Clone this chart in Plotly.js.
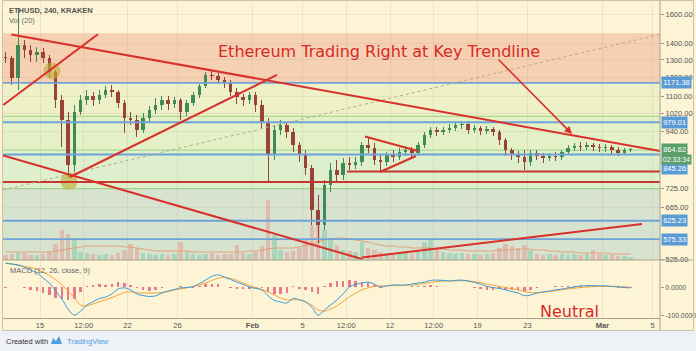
<!DOCTYPE html>
<html><head><meta charset="utf-8">
<script src="https://cdn.plot.ly/plotly-3.0.1.min.js"></script>
<style>html,body{margin:0;padding:0;background:#fdf4d6;}#chart{width:696px;height:351px;}</style>
</head><body><div id="chart"></div>
<script>
// ---------- data (12h candles, ETHUSD Kraken) ----------
const firstCandleCentre = Date.UTC(2018,0,12,6,0,0);
const candleHours = 12;
const opens = [1318,1312,1197,1391,1360,1330,1348,1312,1231,1083,
 989,806,1026,1083,1103,1083,1108,1134,1123,1069,
 998,989,945,998,1035,1059,1083,1064,1083,1026,
 1069,1108,1155,1214,1208,1187,1176,1123,1098,1083,
 1108,1059,980,843,945,967,937,883,843,795,
 657,613,736,788,770,813,806,817,883,871,
 825,817,843,836,855,863,851,883,924,945,
 937,945,954,967,971,945,954,941,950,937,
 903,863,843,836,817,851,840,832,840,836,
 855,871,879,875,883,875,871,875,863,851,863];
const highs = [1348,1324,1647,1423,1391,1379,1373,1330,1242,1108,
 1026,1059,1108,1134,1123,1134,1155,1160,1134,1083,
 1026,1012,1021,1054,1093,1103,1103,1098,1093,1083,
 1123,1165,1231,1242,1225,1203,1187,1144,1113,1123,
 1123,1083,998,967,989,980,954,895,863,806,
 703,753,813,825,832,836,836,895,911,891,
 843,855,863,871,879,875,895,937,958,958,
 958,971,980,985,985,967,963,963,958,945,
 911,871,859,863,863,863,851,851,855,863,
 883,891,895,895,891,887,887,883,875,871,871];
const lows = [1282,1160,1134,1312,1288,1288,1282,1197,1045,875,
 760,781,1012,1059,1054,1064,1093,1098,1045,932,
 967,916,932,980,1016,1035,1035,1045,989,1007,
 1054,1093,1144,1187,1165,1144,1103,1064,1054,1064,
 1026,954,743,825,924,911,855,817,770,613,
 565,600,713,743,753,788,791,802,851,806,
 781,802,817,825,840,832,840,871,911,920,
 924,932,941,950,928,932,924,928,920,883,
 840,825,813,788,802,825,813,821,821,825,
 843,859,859,863,859,855,855,847,840,843,855];
const closes = [1312,1197,1391,1360,1330,1348,1312,1231,1083,989,
 806,1026,1083,1103,1083,1108,1134,1123,1069,998,
 989,945,998,1035,1059,1083,1064,1083,1026,1069,
 1108,1155,1214,1208,1187,1176,1123,1098,1083,1108,
 1059,980,843,945,967,937,883,843,795,657,
 613,736,788,770,813,806,817,883,871,825,
 817,843,836,855,863,851,883,924,945,937,
 945,954,967,971,945,954,941,950,937,903,
 863,843,836,817,851,840,832,840,836,855,
 871,879,875,883,875,871,875,863,851,863,864.62];
const volumes = [5000,6000,8000,7000,5000,5000,6000,8000,16000,30000,
 26000,22000,8000,7000,6000,5000,6000,5000,7000,10000,
 16000,12000,7000,6000,5000,6000,5000,6000,18000,8000,
 6000,5000,6000,7000,5000,6000,6000,15000,7000,6000,
 8000,14000,60000,25000,10000,8000,9000,12000,20000,35000,
 38000,30000,20000,15000,10000,9000,8000,18000,12000,10000,
 8000,7000,6000,6000,7000,6000,8000,18000,20000,12000,
 8000,7000,6000,7000,6000,6000,5000,6000,7000,12000,
 16000,14000,12000,15000,10000,6000,5000,6000,5000,6000,
 5000,6000,5000,7000,10000,6000,5000,5000,4000,4000,3000];
const volumeMA = [8000,8000,8000,8000,8000,8000,8000,8000,9000,10000,
 11000,12000,13000,14000,14000,14000,14000,14000,14000,13000,
 13000,12000,11000,10000,9000,9000,9000,9000,9000,9000,
 8000,8000,8000,8000,8000,8000,8000,8000,8000,9000,
 9000,10000,11000,12000,12000,12000,12000,13000,14000,16000,
 18000,20000,21000,22000,22000,21000,20000,19000,18000,16000,
 15000,14000,14000,13000,13000,12000,12000,12000,12000,11000,
 11000,10000,10000,10000,9000,9000,9000,9000,9000,10000,
 10000,10000,11000,11000,11000,10000,10000,9000,9000,8000,
 8000,8000,7000,7000,7000,7000,7000,6000,6000,6000,6000];
const macdLine = [83,81,78,71,60,50,32,15,-13,-41,
 -76,-97,-83,-62,-50,-39,-34,-23,-6,-2,
 -9,-23,-29,-32,-30,-20,-13,-8,-2,-1,
 2,13,25,38,43,36,27,18,10,1,
 -4,-9,-30,-46,-51,-55,-39,-43,-51,-70,
 -97,-79,-62,-44,-23,1,10,15,18,11,
 1,5,8,8,8,11,15,18,24,25,
 24,22,24,25,22,17,11,3,-1,-4,
 -9,-15,-20,-29,-27,-20,-16,-13,-9,-6,
 -2,1,5,6,6,5,5,3,1,-1,-2];
const signalLine = [85,81,76,72,69,62,52,41,27,8,
 -13,-37,-62,-65,-58,-51,-43,-36,-27,-18,
 -16,-19,-20,-20,-20,-18,-15,-9,-6,-2,
 3,8,15,24,32,34,31,24,15,6,
 -1,-8,-16,-27,-37,-44,-44,-44,-51,-63,
 -79,-83,-76,-65,-49,-34,-20,-9,-2,3,
 5,5,6,6,7,8,10,13,17,20,
 22,22,22,23,22,20,16,11,7,3,
 -1,-5,-9,-15,-18,-19,-17,-15,-12,-9,
 -6,-3,-1,1,2,3,3,3,3,2,0];
const histogram = [-2,0,2,-1,-9,-12,-20,-26,-38,-42,
 -45,-42,-18,3,8,12,9,13,20,16,
 7,-4,-9,-12,-10,-2,2,1,4,1,
 -1,5,10,13,11,2,-4,-6,-5,-5,
 -3,-1,-15,-22,-25,-20,5,-5,-10,-18,
 -22,4,14,21,22,25,22,18,14,8,
 -4,0,2,2,1,3,5,5,7,5,
 2,0,2,2,0,-3,-5,-8,-8,-7,
 -8,-10,-11,-14,-9,-1,1,2,3,3,
 4,4,6,5,4,2,2,0,-2,-3,-2];

// axis ticks
const dateTicks = ['2018-01-15','2018-01-18 12:00','2018-01-22','2018-01-26','2018-02-01','2018-02-05','2018-02-08 12:00','2018-02-12','2018-02-15 12:00','2018-02-19','2018-02-23','2018-03-01','2018-03-05'];
const dateTickText = ['15','12:00','22','26','<b>Feb</b>','5','12:00','12','12:00','19','23','<b>Mar</b>','5'];
const priceTicks = [525,665,725,940,1020,1100,1200,1300,1400,1600];
const macdTicks = [0,-100];
const macdTickText = ['0.0000','-100.0000'];

// drawn levels / zones
const zoneEdges = [1467.5,1171.38,1005,862,724];
const blueLevels = [1171.38,979.01,845.26,625.23,575.33];
const greenLevels = [1005,862,724];
const redLevelPrices = [782,746];
const redLevelStarts = ['2018-02-08 13:30','2018-01-12 00:00'];
// trend lines (time, price pairs)
const trendStartTimes = ['2018-01-12 17:00','2018-01-12 01:30','2018-01-17 09:36','2018-01-12 01:00','2018-02-09 18:15','2018-02-10 00:00','2018-02-11 04:48'];
const trendStartPrices = [1460,1059,763,842,529,917.5,780.6];
const trendEndTimes = ['2018-03-05 14:24','2018-01-19 15:20','2018-02-02 23:00','2018-02-09 18:15','2018-03-04 03:50','2018-02-14 05:46','2018-02-14 01:55'];
const trendEndPrices = [859,1461,1214,525.4,616.2,858.9,839.6];
const dashStartTime = '2018-01-12 01:00', dashStartPrice = 719.2;
const dashEndTime = '2018-03-05 14:24', dashEndPrice = 1460.8;
const circleTimes = ['2018-01-15 23:00','2018-01-17 07:40'];
const circlePrices = [1236,748];
const priceTags = ['1171.38','979.01','864.62','845.26','625.23','575.33'];
const priceTagValues = [1171.38,979.01,864.62,845.26,625.23,575.33];

// ---------- build ----------
function fmt(ms){const d=new Date(ms);const p=n=>String(n).padStart(2,'0');
 return d.getUTCFullYear()+'-'+p(d.getUTCMonth()+1)+'-'+p(d.getUTCDate())+' '+p(d.getUTCHours())+':'+p(d.getUTCMinutes());}
const times = closes.map((_,i)=>fmt(firstCandleCentre+i*candleHours*3600e3));
const isUp = closes.map((c,i)=>c>=opens[i]);
const volColors = isUp.map(u=> u ? 'rgba(83,185,150,0.35)' : 'rgba(235,110,110,0.32)');
const candleColors = isUp.map(u=> u ? '#3f8a57' : '#9b4237');
const H = 3600e3;

const PX = px => (px-3)/657;
const PY = py => (318-py)/316;
const L10 = v => Math.log10(v);

const traces = [
 {type:'bar', x:times, y:volumes, xaxis:'x', yaxis:'y', marker:{color:volColors, line:{width:0}}, width:9*H, hoverinfo:'skip'},
 {type:'scatter', mode:'lines', x:times, y:volumeMA, xaxis:'x', yaxis:'y', line:{color:'#e3a27a', width:1}, hoverinfo:'skip'},
 {type:'bar', x:times, base:lows, y:highs.map((h,i)=>h-lows[i]), xaxis:'x', yaxis:'y3', marker:{color:candleColors, line:{width:0}}, width:1.8*H, hoverinfo:'skip'},
 {type:'bar', x:times, base:opens.map((o,i)=>Math.min(o,closes[i])), y:opens.map((o,i)=>Math.max(Math.abs(closes[i]-o),2)), xaxis:'x', yaxis:'y3', marker:{color:candleColors, line:{width:0}}, width:6.5*H, hoverinfo:'skip'},
 {type:'scatter', mode:'markers', x:circleTimes, y:circlePrices, xaxis:'x', yaxis:'y3', marker:{size:17, color:'rgba(190,172,55,0.62)', line:{width:0}}, hoverinfo:'skip'},
 {type:'bar', x:times, y:histogram, xaxis:'x', yaxis:'y2', marker:{color:'rgba(224,80,110,0.75)', line:{width:0}}, width:5*H, hoverinfo:'skip'},
 {type:'scatter', mode:'lines', x:times, y:signalLine, xaxis:'x', yaxis:'y2', line:{color:'#f2a43a', width:1, shape:'spline'}, hoverinfo:'skip'},
 {type:'scatter', mode:'lines', x:times, y:macdLine, xaxis:'x', yaxis:'y2', line:{color:'#3d9ad8', width:1, shape:'spline'}, hoverinfo:'skip'}
];

const shapes = [];
shapes.push({type:'rect', xref:'paper', yref:'paper', x0:PX(-2), x1:PX(700), y0:PY(355), y1:PY(331), fillcolor:'#eef1f5', line:{width:0}, layer:'below'});
const zoneColors = ['#f6d0b2','#eef0c7','#e4f0c6','#ddefcc','#d8e3cf'];
for(let i=0;i<zoneEdges.length;i++){
  const top = zoneEdges[i];
  const bottom = i+1<zoneEdges.length ? zoneEdges[i+1] : 400;
  shapes.push({type:'rect', xref:'paper', yref:'y3', x0:0, x1:1, y0:bottom, y1:top, fillcolor:zoneColors[i], line:{width:0}, layer:'below'});
}
greenLevels.forEach(v=>shapes.push({type:'line', xref:'paper', yref:'y3', x0:0, x1:1, y0:v, y1:v, line:{color:'#a9d98e', width:1.3}, layer:'below'}));
blueLevels.forEach(v=>shapes.push({type:'line', xref:'x', yref:'y3', x0:'2018-01-11', x1:'2018-03-06', y0:v, y1:v, line:{color:'#6fa3d8', width:1.8}, layer:'above'}));
redLevelPrices.forEach((v,i)=>shapes.push({type:'line', xref:'x', yref:'y3', x0:redLevelStarts[i], x1:'2018-03-06', y0:v, y1:v, line:{color:'#c8372d', width:2}, layer:'above'}));
shapes.push({type:'line', xref:'x', yref:'y3', x0:dashStartTime, x1:dashEndTime, y0:dashStartPrice, y1:dashEndPrice, line:{color:'#b8a88a', width:1, dash:'dot'}, layer:'above'});
for(let i=0;i<trendStartTimes.length;i++){
  shapes.push({type:'line', xref:'x', yref:'y3', x0:trendStartTimes[i], x1:trendEndTimes[i], y0:trendStartPrices[i], y1:trendEndPrices[i], line:{color:'#d8302a', width:2}, layer:'above'});
}
shapes.push({type:'line', xref:'paper', yref:'paper', x0:PX(3), x1:PX(693), y0:PY(260), y1:PY(260), line:{color:'#a8a08c', width:1}});
shapes.push({type:'line', xref:'paper', yref:'paper', x0:PX(660), x1:PX(660), y0:PY(0), y1:PY(330), line:{color:'#a8a08c', width:1}});
shapes.push({type:'rect', xref:'paper', yref:'paper', x0:PX(2.5), x1:PX(693.5), y0:PY(330.5), y1:PY(0.5), line:{color:'#c9c2ae', width:1}});
shapes.push({type:'path', xref:'paper', yref:'paper', path:`M ${PX(51)} ${PY(344)} L ${PX(53)} ${PY(338)} L ${PX(56)} ${PY(341)} L ${PX(59)} ${PY(336)} L ${PX(62)} ${PY(344)} Z`, fillcolor:'#4d9de0', line:{width:0}});

const annotations = [];
const tagBg = ['#5b9bd5','#5b9bd5','#5a9e6a','#5b9bd5','#5b9bd5','#5b9bd5'];
const tagShift = [0,0,0,-13.5,0,0];
const tagFont = {family:'Liberation Sans, Arial', size:7.5, color:'#ffffff'};
priceTags.forEach((t,i)=>annotations.push({xref:'paper', yref:'y3', x:1, y:L10(priceTagValues[i]), xanchor:'left', yanchor:'middle', xshift:1, yshift:tagShift[i], text:t, showarrow:false, bgcolor:tagBg[i], borderpad:1.2, font:tagFont}));
annotations.push({xref:'paper', yref:'y3', x:1, y:L10(864.62), xanchor:'left', yanchor:'middle', xshift:1, yshift:-9.7, text:'02:33:34', showarrow:false, bgcolor:'#5a9e6a', borderpad:0.8, font:{family:'Liberation Sans, Arial', size:7, color:'#ffffff'}});
annotations.push({xref:'x', yref:'y3', x:'2018-02-26 13:26', y:L10(928), ax:-75, ay:-76, axref:'pixel', ayref:'pixel', text:'', showarrow:true, arrowcolor:'#d8302a', arrowwidth:1.5, arrowhead:2, arrowsize:1});
annotations.push({xref:'paper', yref:'paper', x:PX(379), y:PY(52), xanchor:'center', yanchor:'middle', text:'Ethereum Trading Right at Key Trendline', showarrow:false, font:{family:'DejaVu Sans', size:16, color:'#d62a26'}});
annotations.push({xref:'paper', yref:'paper', x:PX(569), y:PY(311), xanchor:'center', yanchor:'middle', text:'Neutral', showarrow:false, font:{family:'DejaVu Sans', size:16, color:'#d62a26'}});
annotations.push({xref:'paper', yref:'paper', x:PX(7), y:PY(10.5), xanchor:'left', yanchor:'middle', text:'<b>ETHUSD, 240, KRAKEN</b>', showarrow:false, font:{family:'Liberation Sans, Arial', size:7.5, color:'#555'}});
annotations.push({xref:'paper', yref:'paper', x:PX(7), y:PY(20.5), xanchor:'left', yanchor:'middle', text:'Vol (20)', showarrow:false, font:{family:'Liberation Sans, Arial', size:7.5, color:'#666'}});
annotations.push({xref:'paper', yref:'paper', x:PX(8), y:PY(270), xanchor:'left', yanchor:'middle', text:'MACD (12, 26, close, 9)', showarrow:false, font:{family:'Liberation Sans, Arial', size:7.5, color:'#666'}});
annotations.push({xref:'paper', yref:'paper', x:PX(4), y:PY(341), xanchor:'left', yanchor:'middle', text:'Created with', showarrow:false, font:{family:'Liberation Sans, Arial', size:7.5, color:'#333'}});
annotations.push({xref:'paper', yref:'paper', x:PX(65), y:PY(341), xanchor:'left', yanchor:'middle', text:'TradingView', showarrow:false, font:{family:'Liberation Sans, Arial', size:7.5, color:'#4d9de0'}});

const tickFont = {family:'Liberation Sans, Arial', size:7.5, color:'#555'};
const layout = {
  width:696, height:351, margin:{l:3, r:36, t:2, b:33},
  paper_bgcolor:'#fdf4d6', plot_bgcolor:'#fdf4d6', showlegend:false, barmode:'overlay',
  xaxis:{type:'date', range:['2018-01-12 00:58','2018-03-05 14:24'], anchor:'y2', tickvals:dateTicks, ticktext:dateTickText,
    tickfont:tickFont, ticks:'', showgrid:true, gridcolor:'rgba(140,130,100,0.13)', gridwidth:1,
    showline:true, linecolor:'#a8a08c', zeroline:false},
  yaxis:{domain:[0.18354,1], range:[0,258000], visible:false, showgrid:false, zeroline:false},
  yaxis3:{overlaying:'y', type:'log', side:'right', anchor:'x', range:[L10(523.0), L10(1692)], tickvals:priceTicks, ticktext:priceTicks.map(v=>v.toFixed(2)),
    tickfont:tickFont, ticks:'outside', ticklen:3, tickcolor:'#999', showgrid:true, gridcolor:'rgba(140,130,100,0.10)', zeroline:false, showline:false},
  yaxis2:{domain:[0,0.18354], range:[-107,95], side:'right', anchor:'x', tickvals:macdTicks, ticktext:macdTickText,
    tickfont:{family:'Liberation Sans, Arial', size:6.8, color:'#555'}, ticks:'outside', ticklen:3, tickcolor:'#999', showgrid:false, zeroline:false, showline:false},
  shapes:shapes, annotations:annotations, bargap:0
};
Plotly.newPlot('chart', traces, layout, {displayModeBar:false, staticPlot:true});
</script></body></html>
